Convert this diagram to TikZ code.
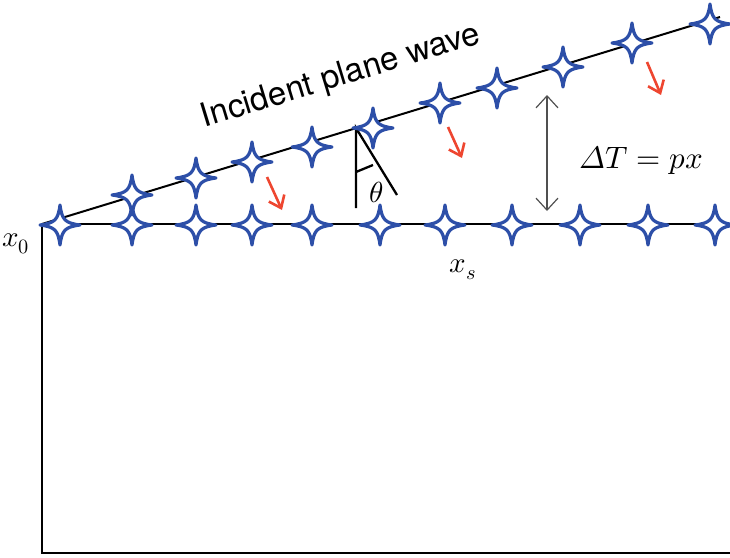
\documentclass[tikz,border=0pt]{standalone}
\usepackage{fontspec}
\usepackage[math-style=ISO]{unicode-math}
\newfontfamily\wavefont{TeX Gyre Heros}
\usetikzlibrary{arrows.meta}
\definecolor{wavestar}{HTML}{2D4FA8}
\definecolor{rayred}{HTML}{EE4630}
\definecolor{bargray}{HTML}{505050}

\tikzset{
 starmark/.pic={\path[draw=wavestar,fill=white,line width=3.2pt,line join=round]
   (20,0) .. controls (5,2) and (2,5) .. (0,20) .. controls (-2,5) and (-5,2) .. (-20,0)
   .. controls (-5,-2) and (-2,-5) .. (0,-20) .. controls (2,-5) and (5,-2) .. cycle;}
}

\begin{document}
\begin{tikzpicture}[x=1pt,y=-1pt,
 surf/.style={line width=2.6pt},
 front/.style={line width=2pt},
 ray/.style={-{Straight Barb[length=11pt,width=17pt]},line width=2.6pt,draw=rayred},
 delay/.style={{Straight Barb[length=12pt,width=22pt]}-{Straight Barb[length=12pt,width=22pt]},line width=1.2pt,draw=bargray},
 lbl/.style={font=\fontsize{29}{33}\selectfont,inner sep=0pt}]
\useasboundingbox (0,0) rectangle (730,557);
% model box and free surface
\coordinate (x0) at (42,224);
\draw[surf] (730,224) -- (x0) -- (42,553) -- (730,553);
% incident wavefront
\coordinate (wend) at (720,17);
\draw[front] (x0) -- (wend);
% incidence angle
\coordinate (apex) at (356,128);
\draw[front,line width=2.3pt] (356,208) -- (apex) -- (397,195);
\draw[front,line width=2.3pt] (356,172) -- (373,165);
\node[lbl] (th) at (376,192) {$\theta$};
% propagation direction
\foreach \ax/\ay/\bx/\by in {267/177/282/210, 448/127/462/158, 647/62/661/95}
  \draw[ray] (\ax,\ay) -- (\bx,\by);
% delay
\coordinate (dtop) at (547,95);
\coordinate (dbot) at (547,211);
\draw[delay] (dtop) -- (dbot);
\node[lbl,font=\fontsize{31}{35}\selectfont] (dt) at (641,160) {$\Delta T = px$};
% stations
\foreach \sx in {60,132,196,252,312,380,445,512,580,648,715}
  \pic at (\sx,225) {starmark};
\foreach \sx/\sy in {132/195,196/178,252/162,312/147,373/128,440/103,497/88,563/67,632/43,710/24}
  \pic at (\sx,\sy) {starmark};
% labels
\node[lbl] (x0lbl) at (16,244) {$x_0$};
\node[lbl] (xs) at (463,270) {$x_s$};
\node[font=\wavefont\fontsize{33}{38}\selectfont,rotate=17,inner sep=0pt] (title) at (341,77) {Incident plane wave};
\end{tikzpicture}
\end{document}
